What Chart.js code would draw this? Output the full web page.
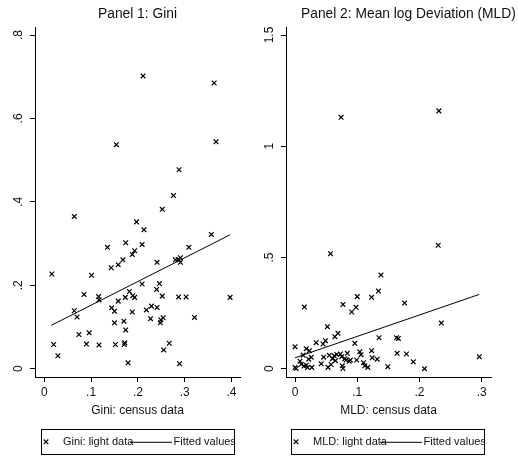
<!DOCTYPE html>
<html><head><meta charset="utf-8">
<script src="https://cdn.jsdelivr.net/npm/chart.js@4/dist/chart.umd.min.js"></script>
<style>
html,body{margin:0;padding:0;background:#fff;overflow:hidden;width:518px;height:467px}
#c1{position:absolute;left:0;top:0}
#c2{position:absolute;left:259px;top:0}
</style>
</head><body>
<canvas id="c1" width="259" height="467"></canvas>
<canvas id="c2" width="259" height="467"></canvas>
<script>
// ---- Panel 1: Gini ----
const giniCensus = [0.016,0.020,0.029,0.064,0.064,0.070,0.074,0.085,0.090,0.096,0.101,0.116,0.117,0.117,0.135,0.143,0.144,0.150,0.150,0.152,0.158,0.158,0.168,0.170,0.171,0.172,0.174,0.173,0.174,0.179,0.182,0.188,0.188,0.189,0.193,0.193,0.197,0.209,0.209,0.213,0.218,0.229,0.227,0.240,0.241,0.241,0.246,0.248,0.249,0.252,0.252,0.254,0.255,0.267,0.276,0.280,0.286,0.287,0.289,0.291,0.291,0.303,0.309,0.321,0.357,0.397,0.154,0.211,0.363,0.367,0.288];
const giniLight  = [0.227,0.058,0.031,0.365,0.139,0.124,0.082,0.178,0.059,0.086,0.224,0.173,0.165,0.057,0.291,0.242,0.146,0.138,0.110,0.058,0.249,0.162,0.261,0.114,0.058,0.062,0.302,0.171,0.093,0.014,0.185,0.274,0.136,0.175,0.283,0.171,0.352,0.298,0.203,0.333,0.141,0.150,0.120,0.190,0.255,0.147,0.204,0.110,0.117,0.382,0.174,0.122,0.045,0.061,0.415,0.261,0.262,0.172,0.012,0.266,0.255,0.172,0.291,0.123,0.322,0.171,0.537,0.702,0.685,0.544,0.477];
const giniFitX = [0.015, 0.397];
const giniFitY = [0.104, 0.321];
const giniXTicks = [0, 0.1, 0.2, 0.3, 0.4];
const giniXLabels = ['0', '.1', '.2', '.3', '.4'];
const giniYTicks = [0, 0.2, 0.4, 0.6, 0.8];
const giniYLabels = ['0', '.2', '.4', '.6', '.8'];

// ---- Panel 2: MLD ----
const mldCensus = [0.000,0.000,0.002,0.015,0.018,0.013,0.008,0.0145,0.018,0.022,0.023,0.026,0.027,0.034,0.042,0.045,0.046,0.049,0.052,0.053,0.055,0.057,0.058,0.064,0.063,0.065,0.069,0.067,0.073,0.075,0.077,0.076,0.077,0.082,0.084,0.087,0.089,0.091,0.096,0.098,0.100,0.099,0.104,0.106,0.110,0.112,0.117,0.123,0.123,0.124,0.132,0.134,0.135,0.138,0.149,0.163,0.166,0.164,0.176,0.179,0.190,0.208,0.230,0.235,0.296,0.074,0.231,0.010,0.020,0.080,0.060];
const mldLight  = [0.099,0.005,0.001,0.277,0.090,0.061,0.034,0.012,0.016,0.043,0.081,0.051,0.006,0.117,0.022,0.111,0.052,0.126,0.189,0.006,0.060,0.517,0.019,0.144,0.058,0.036,0.159,0.064,0.066,0.054,0.289,0.013,0.001,0.039,0.069,0.034,0.039,0.255,0.114,0.276,0.324,0.039,0.076,0.063,0.027,0.013,0.006,0.321,0.081,0.049,0.043,0.349,0.139,0.421,0.009,0.139,0.136,0.069,0.295,0.066,0.031,0.000,0.555,0.205,0.054,1.130,1.159,0.020,0.005,0.045,0.045];
const mldFitX = [0.000, 0.296];
const mldFitY = [0.049, 0.334];
const mldXTicks = [0, 0.1, 0.2, 0.3];
const mldXLabels = ['0', '.1', '.2', '.3'];
const mldYTicks = [0, 0.5, 1, 1.5];
const mldYLabels = ['0', '.5', '1', '1.5'];

const FONT = '"Liberation Sans", Arial, Helvetica, sans-serif';
const INK = '#111';

function pts(xs, ys){ return xs.map((x,i)=>({x:x, y:ys[i]})); }

const deco = {
  id: 'deco',
  afterDraw(chart, args, o){
    const ctx = chart.ctx, ca = chart.chartArea, ys = chart.scales.y;
    ctx.save();
    ctx.fillStyle = INK;
    ctx.textBaseline = 'middle';
    // title
    ctx.font = '13.8px ' + FONT;
    ctx.textAlign = o.titleAlign;
    ctx.fillText(o.title, o.titleX, 14.5);
    // y tick labels (rotated)
    ctx.font = '12px ' + FONT;
    o.yTicks.forEach((v,i)=>{
      const y = ys.getPixelForValue(v);
      ctx.save();
      ctx.translate(ca.left - 16, y);
      ctx.rotate(-Math.PI/2);
      ctx.textAlign = 'center';
      ctx.fillText(o.yLabels[i], 0, 0);
      ctx.restore();
    });
    // x title
    ctx.textAlign = 'center';
    ctx.font = '12px ' + FONT;
    ctx.fillText(o.xTitle, (ca.left + ca.right)/2, 410.5);
    // legend
    const L = o.legendLeft, top = 429.5, h = 25, w = 193, cy = 441.8;
    ctx.strokeStyle = '#000';
    ctx.lineWidth = 1;
    ctx.strokeRect(L + 0.5, top, w, h);
    ctx.lineWidth = 1.2;
    const mx = L + 5, s = 2.3;
    ctx.beginPath();
    ctx.moveTo(mx - s, cy - s); ctx.lineTo(mx + s, cy + s);
    ctx.moveTo(mx - s, cy + s); ctx.lineTo(mx + s, cy - s);
    ctx.stroke();
    ctx.font = '11px ' + FONT;
    ctx.textAlign = 'left';
    ctx.fillText(o.legend1, L + 22, cy);
    ctx.lineWidth = 1;
    ctx.beginPath();
    ctx.moveTo(L + 89, cy + 0.5); ctx.lineTo(L + 131, cy + 0.5);
    ctx.stroke();
    ctx.fillText('Fitted values', L + 132.5, cy);
    ctx.restore();
  }
};

function makeChart(id, p){
  return new Chart(document.getElementById(id), {
    type: 'scatter',
    data: {
      datasets: [
        { type: 'scatter', data: pts(p.cx, p.ly), pointStyle: 'crossRot', pointRadius: 3.3, pointBorderWidth: 1.2,
          borderColor: '#000', backgroundColor: '#000', showLine: false },
        { type: 'line', data: pts(p.fx, p.fy), borderColor: '#000', borderWidth: 1, pointRadius: 0, fill: false, tension: 0 }
      ]
    },
    options: {
      responsive: false, animation: false, devicePixelRatio: 1,
      layout: { padding: { left: 0, top: 27, right: p.padRight, bottom: 0 } },
      plugins: {
        legend: { display: false }, tooltip: { enabled: false },
        deco: p.deco
      },
      scales: {
        x: {
          type: 'linear', min: p.xMin, max: p.xMax,
          afterBuildTicks: s => { s.ticks = p.xTicks.map(v => ({ value: v })); },
          afterFit: s => { s.height = 90; },
          ticks: { callback: (v, i) => p.xLabels[i], font: { family: FONT, size: 12 }, color: INK, padding: 3, maxRotation: 0, autoSkip: false },
          grid: { drawOnChartArea: false, drawTicks: true, tickLength: 5, color: '#000', lineWidth: 1 },
          border: { display: true, color: '#000', width: 1 }
        },
        y: {
          type: 'linear', min: p.yMin, max: p.yMax,
          afterBuildTicks: s => { s.ticks = p.yTicks.map(v => ({ value: v })); },
          afterFit: s => { s.width = p.yWidth; },
          ticks: { display: false },
          grid: { drawOnChartArea: false, drawTicks: true, tickLength: 5, color: '#000', lineWidth: 1 },
          border: { display: true, color: '#000', width: 1 }
        }
      }
    },
    plugins: [deco]
  });
}

makeChart('c1', {
  cx: giniCensus, ly: giniLight, fx: giniFitX, fy: giniFitY,
  xTicks: giniXTicks, xLabels: giniXLabels, yTicks: giniYTicks,
  xMin: -0.0199, xMax: 0.4182, yMin: -0.0199, yMax: 0.8192,
  padRight: 19, yWidth: 35,
  deco: { title: 'Panel 1: Gini', titleAlign: 'center', titleX: 137.5, yTicks: giniYTicks, yLabels: giniYLabels,
          xTitle: 'Gini: census data', legendLeft: 41, legend1: 'Gini: light data' }
});

makeChart('c2', {
  cx: mldCensus, ly: mldLight, fx: mldFitX, fy: mldFitY,
  xTicks: mldXTicks, xLabels: mldXLabels, yTicks: mldYTicks,
  xMin: -0.0145, xMax: 0.3148, yMin: -0.0373, yMax: 1.536,
  padRight: 27, yWidth: 27,
  deco: { title: 'Panel 2: Mean log Deviation (MLD)', titleAlign: 'left', titleX: 42, yTicks: mldYTicks, yLabels: mldYLabels,
          xTitle: 'MLD: census data', legendLeft: 32, legend1: 'MLD: light data' }
});
</script>
</body></html>
